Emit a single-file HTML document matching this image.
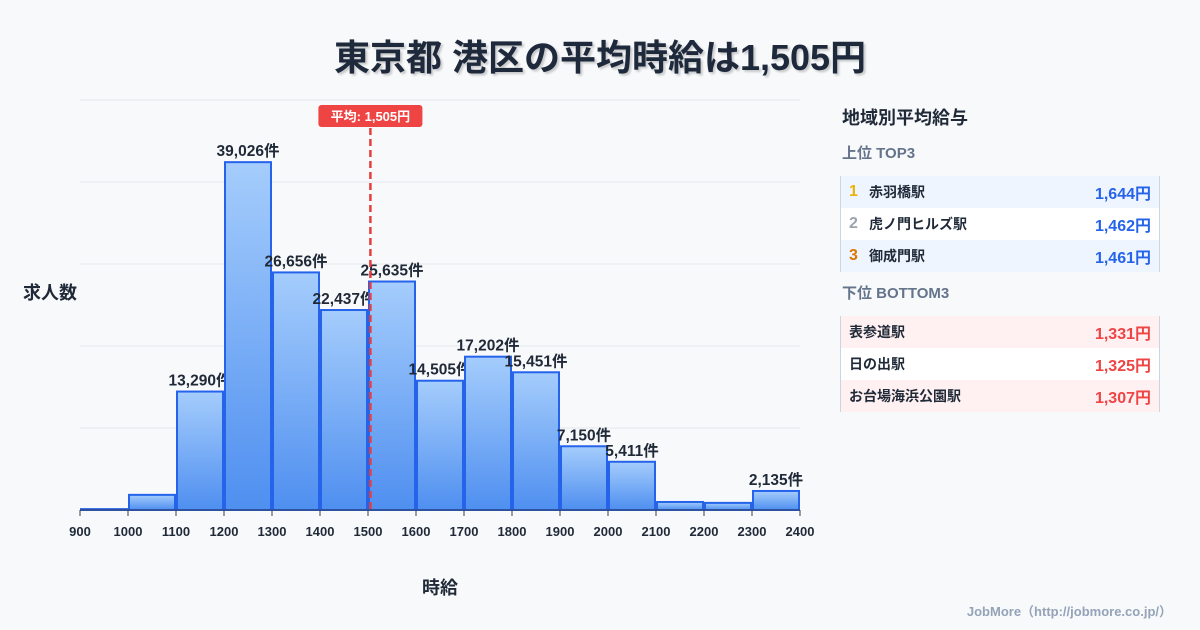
<!DOCTYPE html>
<html><head><meta charset="utf-8"><style>
body{margin:0;width:1200px;height:630px;background:#f8f9fb;font-family:"Liberation Sans","Noto Sans CJK JP",sans-serif;overflow:hidden;position:relative;color:#1f2937}
.title{position:absolute;top:29px;left:0;width:1200px;text-align:center;font-size:36px;font-weight:bold;color:#1e293b;text-shadow:2px 2px 2px rgba(0,0,0,.2)}
.panel{position:absolute;left:840px;top:100px;width:320px}
.ph{font-size:18px;font-weight:bold;margin:4px 0 0 2px;height:40px}
.sub{font-size:15px;font-weight:bold;color:#64748b;height:32px;line-height:20px;margin-left:2px}
.tbl{border-left:1px solid #cbd5e1;border-right:1px solid #cbd5e1;margin-bottom:12px}
.row{height:32px;display:flex;align-items:center;font-size:14px;font-weight:bold;padding:0 8px}
.row .n{width:20px;font-size:16px}
.row .v{margin-left:auto;font-size:16px}
.top .row:nth-child(odd){background:#eef5ff}.top .row:nth-child(even){background:#fff}
.bot .row:nth-child(odd){background:#fff0f1}.bot .row:nth-child(even){background:#fff}
.top .v{color:#2563eb}.bot .v{color:#ef4444}
.foot{position:absolute;right:28px;bottom:10px;font-size:13px;color:#94a3b8;font-weight:bold}
</style></head><body>
<div class="title">東京都 港区の平均時給は1,505円</div>
<svg id="chart" width="830" height="630" style="position:absolute;left:0;top:0">
<defs><linearGradient id="g" x1="0" y1="0" x2="0" y2="1"><stop offset="0" stop-color="#a5cdfc"/><stop offset="1" stop-color="#4f8ff0"/></linearGradient></defs>
</svg>
<div class="panel">
<div class="ph">地域別平均給与</div>
<div class="sub">上位 TOP3</div>
<div class="tbl top">
<div class="row"><span class="n" style="color:#eab308">1</span>赤羽橋駅<span class="v">1,644円</span></div>
<div class="row"><span class="n" style="color:#9ca3af">2</span>虎ノ門ヒルズ駅<span class="v">1,462円</span></div>
<div class="row"><span class="n" style="color:#d97706">3</span>御成門駅<span class="v">1,461円</span></div>
</div>
<div class="sub">下位 BOTTOM3</div>
<div class="tbl bot">
<div class="row">表参道駅<span class="v">1,331円</span></div>
<div class="row">日の出駅<span class="v">1,325円</span></div>
<div class="row">お台場海浜公園駅<span class="v">1,307円</span></div>
</div></div>
<div class="foot">JobMore（http://jobmore.co.jp/）</div>
<script>
const binStarts=[900,1000,1100,1200,1300,1400,1500,1600,1700,1800,1900,2000,2100,2200,2300];
const counts=[100,1700,13290,39026,26656,22437,25635,14505,17202,15451,7150,5411,900,800,2135];
const labelShown=[false,false,true,true,true,true,true,true,true,true,true,true,false,false,true];
const xTicks=[900,1000,1100,1200,1300,1400,1500,1600,1700,1800,1900,2000,2100,2200,2300,2400];
const avgWage=1505;
const yMax=46000, gridCount=5;
const X0=80,X1=800,Y0=510,Y1=100;
const x=v=>X0+(v-900)/1500*(X1-X0);
const y=v=>Y0-v/yMax*(Y0-Y1);
const svg=document.getElementById('chart');const NS='http://www.w3.org/2000/svg';
function mk(t,a,txt){const e=document.createElementNS(NS,t);for(const k in a)e.setAttribute(k,a[k]);if(txt!=null)e.textContent=txt;svg.appendChild(e);return e;}
for(let i=0;i<=gridCount;i++){const gy=Y0-(Y0-Y1)*i/gridCount;
const l=mk('line',{x1:X0,x2:X1,y1:gy,y2:gy,stroke:'#e5e7eb','stroke-width':1});

}
binStarts.forEach((b,i)=>{const x0=x(b)+1,x1=x(b+100)-1,top=y(counts[i]);
const r=mk('rect',{x:x0,y:top,width:x1-x0,height:Y0-top,fill:'url(#g)',stroke:'#2563eb','stroke-width':2});


if(labelShown[i]){const t=mk('text',{x:(x0+x1)/2,y:top-6,'text-anchor':'middle','font-size':15.5,'font-weight':'bold',fill:'#1f2937'},counts[i].toLocaleString('en-US')+'件');

}});
const ax=mk('line',{x1:X0,x2:X1,y1:Y0,y2:Y0,stroke:'#334155','stroke-width':1});


xTicks.forEach(v=>{const tk=mk('line',{x1:x(v),x2:x(v),y1:Y0,y2:Y0+6,stroke:'#334155'});


const t=mk('text',{x:x(v),y:Y0+26,'text-anchor':'middle','font-size':13,'font-weight':'bold',fill:'#1f2937'},v);

});
const av=mk('line',{x1:x(avgWage),x2:x(avgWage),y1:128,y2:Y0,stroke:'#e53e3e','stroke-width':2.5,'stroke-dasharray':'7,4'});


const bx=mk('rect',{x:x(avgWage)-52,y:105,width:104,height:22,rx:3,fill:'#ef4444'});


const bt=mk('text',{x:x(avgWage),y:121,'text-anchor':'middle','font-size':13,'font-weight':'bold',fill:'#fff'},'平均: '+avgWage.toLocaleString('en-US')+'円');


const yt=mk('text',{x:50,y:299,'text-anchor':'middle','font-size':18,'font-weight':'bold',fill:'#1f2937'},'求人数');


const xt=mk('text',{x:440,y:594,'text-anchor':'middle','font-size':18,'font-weight':'bold',fill:'#1f2937'},'時給');


</script>
</body></html>
